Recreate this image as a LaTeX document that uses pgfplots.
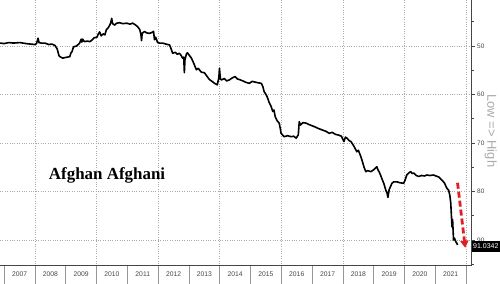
\documentclass[border=0pt]{standalone}
\usepackage{fontspec}
\setmainfont{Liberation Sans}
\newfontfamily\serifttl{Liberation Serif}
\usepackage{pgfplots}
\pgfplotsset{compat=1.18}
\usetikzlibrary{arrows.meta}
\definecolor{arrowred}{RGB}{225,30,35}
\definecolor{tickgray}{RGB}{70,70,70}
\definecolor{gridgray}{RGB}{170,170,170}
\definecolor{sepgray}{RGB}{150,150,150}
\begin{document}
\begin{tikzpicture}
\path[use as bounding box] (0,-19bp) rectangle (500bp,265bp);
% year band
\begin{axis}[
  at={(0,-19bp)}, anchor=south west,
  scale only axis, width=471.7bp, height=19bp,
  xmin=2006.864, xmax=2022.18, ymin=0, ymax=1,
  axis line style={draw=none},
  ytick=\empty,
  xtick={2007,...,2022},
  x tick label as interval,
  xmajorgrids,
  grid style={solid, draw=sepgray, line width=0.6bp},
  major tick length=0pt,
  /pgf/number format/1000 sep={},
  /pgf/number format/assume math mode=true,
  xticklabel style={font=\fontsize{6.8}{7}\selectfont, text=tickgray, anchor=center, yshift=9.5bp},
]
\end{axis}
\begin{axis}[
  at={(0,0)}, anchor=south west,
  scale only axis, width=471.7bp, height=265bp,
  xmin=2006.864, xmax=2022.18,
  ymin=40.52, ymax=95.15, y dir=reverse,
  axis x line*=bottom, axis y line*=right,
  axis line style={draw=tickgray, line width=0.6bp},
  tick align=outside,
  /pgf/number format/assume math mode=true,
  xtick={2008,2010,...,2022},
  xticklabels={},
  xtick style={draw=none},
  xmajorgrids,
  major tick length=3bp, minor tick length=2bp,
  ytick={50,60,70,80,90},
  minor ytick={45,55,...,95},
  ytick style={draw=tickgray, line width=0.6bp},
  yticklabel style={font=\fontsize{6.5}{7}\selectfont, text=tickgray, xshift=-1bp},
  ymajorgrids,
  grid style={dotted, draw=gridgray, line width=0.7bp},
  clip=false,
]
\addplot[black, line width=1.6bp, line join=round, mark=none] table[x=x, y=y] {
x y
2006.864 49.4
2007.00 49.5
2007.15 49.3
2007.30 49.4
2007.51 49.3
2007.70 49.5
2007.85 49.6
2008.00 49.7
2008.05 49.5
2008.10 48.4
2008.13 49.3
2008.20 49.4
2008.32 49.4
2008.45 49.7
2008.55 49.6
2008.65 49.9
2008.72 50.6
2008.78 52.0
2008.81 52.2
2008.90 52.5
2008.97 52.4
2009.05 52.3
2009.13 52.2
2009.17 51.4
2009.20 51.2
2009.25 50.2
2009.29 50.1
2009.35 50.0
2009.45 49.4
2009.50 48.6
2009.52 49.2
2009.55 48.6
2009.60 49.1
2009.70 49.0
2009.78 49.1
2009.85 48.8
2009.92 48.3
2010.01 48.2
2010.05 47.6
2010.10 47.1
2010.15 47.9
2010.22 47.5
2010.27 47.7
2010.32 46.6
2010.36 46.4
2010.42 45.8
2010.46 45.2
2010.49 44.3
2010.52 45.4
2010.59 45.7
2010.65 45.3
2010.75 45.2
2010.85 45.4
2010.98 45.3
2011.08 45.5
2011.17 45.3
2011.25 45.6
2011.33 46.0
2011.40 46.6
2011.44 47.6
2011.46 48.9
2011.48 47.4
2011.52 47.2
2011.56 47.0
2011.62 47.3
2011.72 47.4
2011.80 47.2
2011.85 47.0
2011.88 48.7
2011.92 48.2
2011.98 49.3
2012.05 49.4
2012.14 49.4
2012.25 49.6
2012.37 49.8
2012.42 50.6
2012.47 51.5
2012.55 51.3
2012.62 51.7
2012.69 51.5
2012.75 52.0
2012.79 52.5
2012.83 52.3
2012.85 55.5
2012.87 52.8
2012.92 51.6
2012.95 51.4
2013.02 52.0
2013.08 52.5
2013.15 53.5
2013.24 54.9
2013.30 54.6
2013.40 55.4
2013.50 55.5
2013.58 56.2
2013.66 56.9
2013.75 57.3
2013.83 57.7
2013.92 58.0
2013.97 56.5
2013.99 54.6
2014.02 56.8
2014.05 57.0
2014.15 56.7
2014.22 57.2
2014.31 57.0
2014.40 56.6
2014.50 56.3
2014.57 56.8
2014.63 56.9
2014.75 57.2
2014.85 57.5
2014.96 57.7
2015.05 57.3
2015.12 57.4
2015.25 57.6
2015.35 57.7
2015.40 58.4
2015.44 59.4
2015.50 60.0
2015.54 60.5
2015.60 61.6
2015.67 62.5
2015.72 63.5
2015.76 63.2
2015.80 64.6
2015.87 65.5
2015.93 65.9
2015.97 67.2
2015.99 68.0
2016.09 68.7
2016.20 68.5
2016.32 68.7
2016.40 68.6
2016.48 69.0
2016.55 68.3
2016.58 65.6
2016.62 66.3
2016.70 65.8
2016.80 65.9
2016.90 66.2
2017.06 66.6
2017.20 67.0
2017.32 67.3
2017.45 67.6
2017.55 68.0
2017.65 67.8
2017.75 68.2
2017.87 68.4
2017.95 68.6
2018.03 69.7
2018.08 68.8
2018.13 69.0
2018.20 69.5
2018.26 69.7
2018.35 70.6
2018.45 71.8
2018.50 71.5
2018.58 72.8
2018.63 73.8
2018.68 74.9
2018.74 75.9
2018.80 75.7
2018.91 75.9
2019.00 75.5
2019.10 74.9
2019.14 75.6
2019.17 75.9
2019.22 76.6
2019.26 77.3
2019.33 78.4
2019.39 79.7
2019.43 80.3
2019.46 81.2
2019.50 79.6
2019.55 78.9
2019.59 78.3
2019.65 78.0
2019.75 78.0
2019.85 78.2
2019.97 78.3
2020.02 77.6
2020.07 76.6
2020.13 76.2
2020.20 75.9
2020.25 76.3
2020.30 76.2
2020.38 76.7
2020.46 76.9
2020.55 76.7
2020.65 76.8
2020.72 76.6
2020.82 76.7
2020.94 76.6
2021.02 76.8
2021.11 77.0
2021.16 77.3
2021.20 77.6
2021.25 77.9
2021.30 78.3
2021.37 79.3
2021.43 79.7
2021.47 80.8
2021.50 82.4
2021.52 84.8
2021.54 87.3
2021.56 85.8
2021.59 90.0
2021.62 89.6
2021.66 90.3
2021.70 90.7
2021.72 91.0342
};
\node[font=\serifttl\bfseries\fontsize{17}{18}\selectfont, anchor=center] at (axis cs:2010.34,76.6) {Afghan Afghani};
\node[rotate=-90, text=gridgray, font=\fontsize{13}{14}\selectfont, anchor=center] at (axis cs:2022.80,67.5) {Low => High};
\node[fill=black, text=white, font=\fontsize{7}{8}\selectfont, anchor=west, inner sep=1.3bp, minimum height=11bp] at (axis cs:2022.18,91.3) {91.0342};
\draw[arrowred, line width=2.8bp, dash pattern=on 6bp off 3bp, -{Triangle[length=7bp,width=8bp]}] (axis cs:2021.72,78.2) -- (axis cs:2021.97,91.6);
\end{axis}
\end{tikzpicture}
\end{document}
